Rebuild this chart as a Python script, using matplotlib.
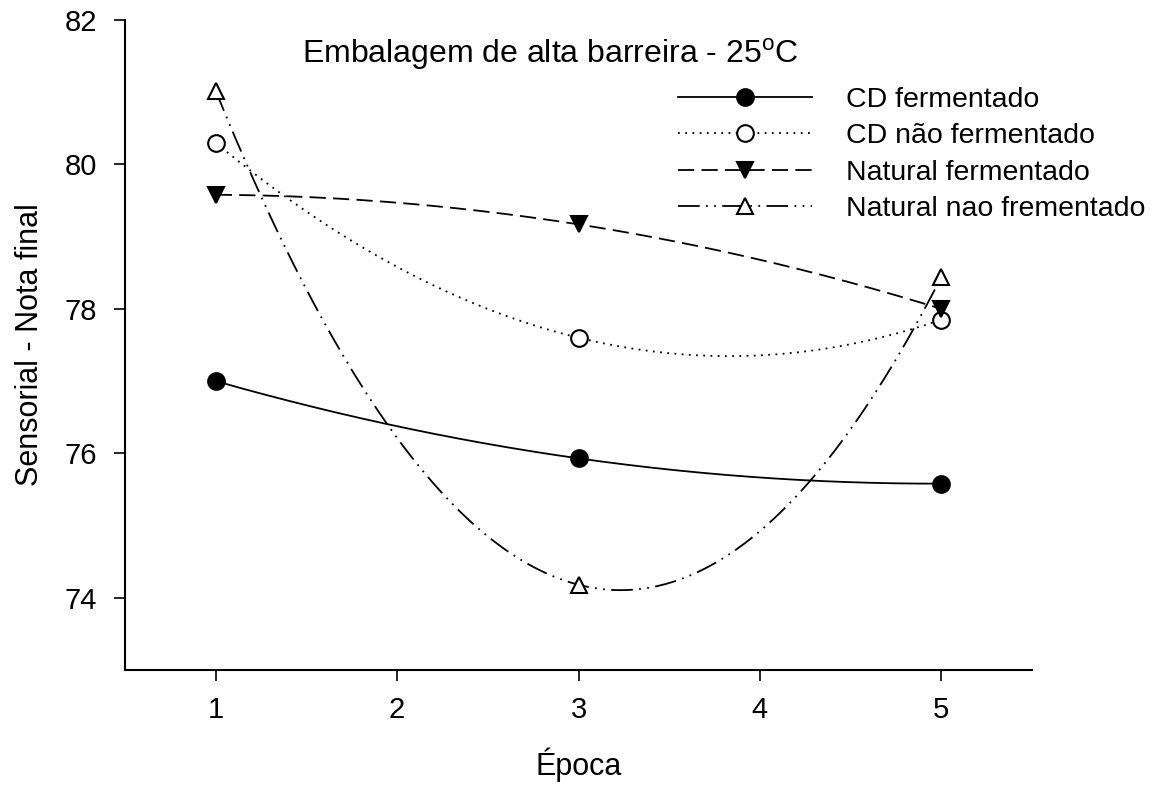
import matplotlib
matplotlib.use("Agg")
import matplotlib.pyplot as plt
import numpy as np

# Sensory scores per storage period (high-barrier packaging, 25 C)
epoca = [1, 3, 5]
cd_fermentado = [77.0, 75.93, 75.58]
cd_nao_fermentado = [80.3, 77.6, 77.85]
natural_fermentado = [79.58, 79.17, 78.0]
natural_nao_fermentado = [81.02, 74.18, 78.44]

labels = ["CD fermentado", "CD não fermentado",
          "Natural fermentado", "Natural nao frementado"]
x_ticks = [1, 2, 3, 4, 5]
y_ticks = [74, 76, 78, 80, 82]

plt.rcParams['font.family'] = ['Liberation Sans', 'DejaVu Sans']
plt.rcParams['mathtext.fontset'] = 'custom'
plt.rcParams['mathtext.rm'] = 'Liberation Sans'

fig = plt.figure(figsize=(11.64, 7.87), dpi=100)
ax = fig.add_axes([0.1074, 0.1487, 0.7792, 0.8259])

series = [
    (cd_fermentado, dict(linestyle='-', marker='o', mfc='black')),
    (cd_nao_fermentado, dict(linestyle=(0, (1, 3)), marker='o', mfc='white')),
    (natural_fermentado, dict(linestyle=(0, (9, 4)), marker='v', mfc='black')),
    (natural_nao_fermentado, dict(linestyle=(0, (12, 3.5, 1, 3.5, 1, 3.5)), marker='^', mfc='white')),
]

x_fine = np.linspace(1, 5, 300)
handles = []
for (vals, style), lab in zip(series, labels):
    # quadratic regression line through the three periods
    coef = np.polyfit(epoca, vals, 2)
    ax.plot(x_fine, np.polyval(coef, x_fine), color='black', lw=1.3,
            linestyle=style['linestyle'], zorder=2)
    ax.plot(epoca, vals, linestyle='none', marker=style['marker'], ms=12,
            mfc=style['mfc'], mec='black', mew=1.5, zorder=3)
    h, = ax.plot([], [], color='black', lw=1.3, linestyle=style['linestyle'],
                 marker=style['marker'], ms=12, mfc=style['mfc'], mec='black', mew=1.5)
    handles.append(h)

ax.set_xlim(0.5, 5.5)
ax.set_ylim(73, 82)
ax.set_xticks(x_ticks)
ax.set_yticks(y_ticks)
ax.tick_params(axis='both', direction='out', length=8, width=1.2, labelsize=21)
ax.tick_params(axis='x', pad=11)
ax.tick_params(axis='y', pad=12)
for side in ['top', 'right']:
    ax.spines[side].set_visible(False)
for side in ['left', 'bottom']:
    ax.spines[side].set_linewidth(1.5)

ax.set_xlabel('Época', fontsize=22, labelpad=17)
ax.set_ylabel('Sensorial - Nota final', fontsize=22, labelpad=14)

ax.text(0.4686, 0.934, r'Embalagem de alta barreira - 25$^{\mathrm{o}}$C', transform=ax.transAxes,
        ha='center', va='baseline', fontsize=23)

ax.legend(handles, labels, loc='upper left', bbox_to_anchor=(0.570, 0.908),
          bbox_transform=fig.transFigure, frameon=False, fontsize=20.5,
          handlelength=4.7, handletextpad=1.2, labelspacing=0.37, borderpad=0,
          numpoints=1)

fig.savefig('out.png', dpi=100)
